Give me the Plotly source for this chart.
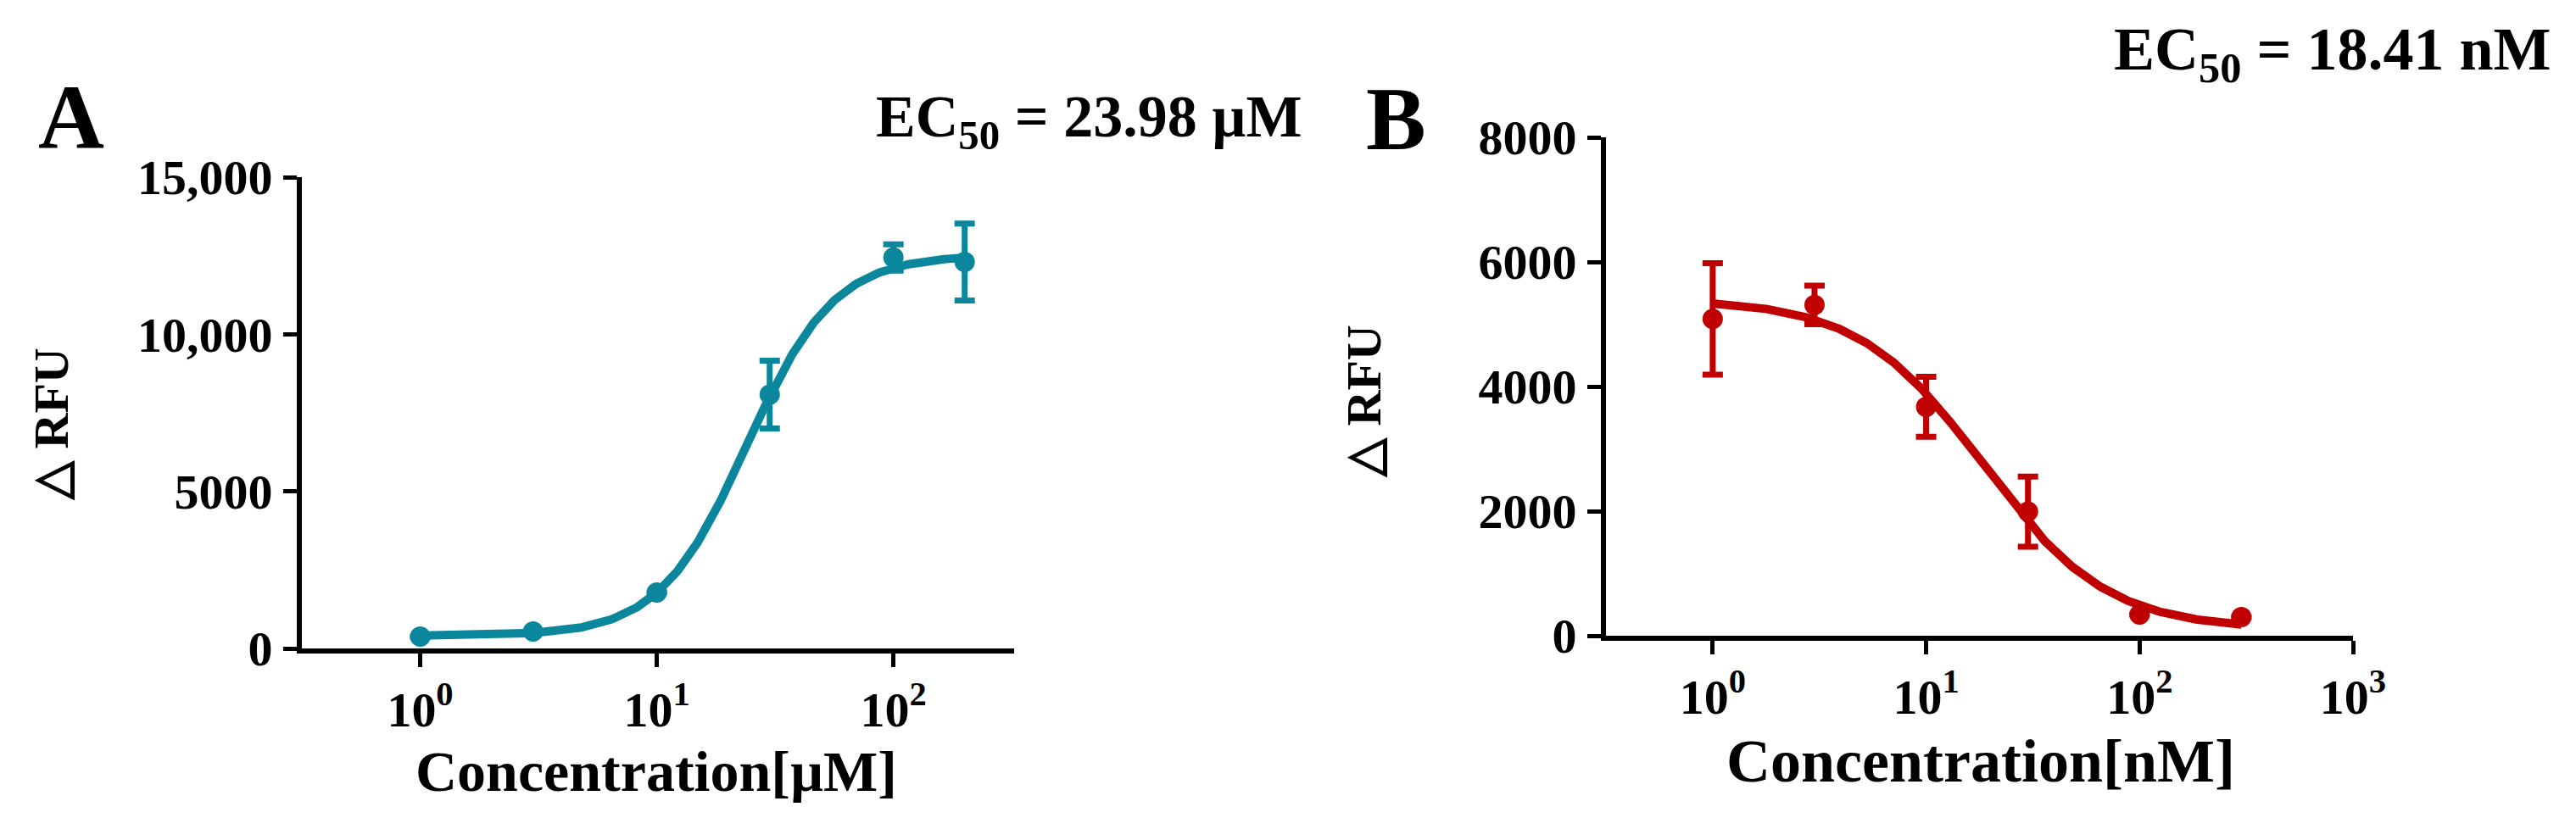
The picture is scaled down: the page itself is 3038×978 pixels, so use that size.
import numpy as np
import plotly.graph_objects as go

W, H = 3038, 978
OFF = 8  # default page margin of the html body

# ---------------- data ----------------
# Panel A (concentration in µM)
conc_a = [1, 3, 10, 30, 100, 200]
rfu_a = [377, 539, 1778, 8080, 12443, 12300]
err_a = [None, None, None, 1077, 420, 1225]
ec50_a = 23.98
fit_a_bottom, fit_a_top, fit_a_hill = 400, 12520, 2.35

# Panel B (concentration in nM)
conc_b = [1, 3, 10, 30, 100, 300]
rfu_b = [5085, 5310, 3675, 1993, 340, 300]
err_b = [895, 310, 480, 563, None, None]
ec50_b = 18.41
fit_b_bottom, fit_b_top, fit_b_hill = 100, 5400, -1.5

yticks_a = [0, 5000, 10000, 15000]
yticklabels_a = ["0", "5000", "10,000", "15,000"]
yticks_b = [0, 2000, 4000, 6000, 8000]
yticklabels_b = ["0", "2000", "4000", "6000", "8000"]
xticks_a = [1, 10, 100]
xticks_b = [1, 10, 100, 1000]
xticklabels_a = ["10<sup>0</sup>", "10<sup>1</sup>", "10<sup>2</sup>"]
xticklabels_b = ["10<sup>0</sup>", "10<sup>1</sup>", "10<sup>2</sup>", "10<sup>3</sup>"]

TEAL = "#0A879C"
RED = "#C00000"
FONT = "Liberation Serif"


def four_pl(x, bottom, top, ec50, hill):
    x = np.asarray(x, dtype=float)
    return bottom + (top - bottom) / (1.0 + (ec50 / x) ** hill)


cx_a = np.logspace(np.log10(conc_a[0]), np.log10(conc_a[-1]), 400)
cy_a = four_pl(cx_a, fit_a_bottom, fit_a_top, ec50_a, fit_a_hill)
cx_b = np.logspace(np.log10(conc_b[0]), np.log10(conc_b[-1]), 400)
cy_b = four_pl(cx_b, fit_b_bottom, fit_b_top, ec50_b, fit_b_hill)


def fx(px):
    return (px - OFF) / W


def fy(py):
    return 1 - (py - OFF) / H


fig = go.Figure()
fig.add_trace(go.Scatter(x=cx_a, y=cy_a, mode="lines", line=dict(color=TEAL, width=10),
                         xaxis="x", yaxis="y", hoverinfo="skip", cliponaxis=False))
fig.add_trace(go.Scatter(x=conc_a, y=rfu_a, mode="markers",
                         marker=dict(color=TEAL, size=24),
                         error_y=dict(type="data", array=err_a, color=TEAL, thickness=7, width=12),
                         xaxis="x", yaxis="y", cliponaxis=False))
fig.add_trace(go.Scatter(x=cx_b, y=cy_b, mode="lines", line=dict(color=RED, width=10),
                         xaxis="x2", yaxis="y2", hoverinfo="skip", cliponaxis=False))
fig.add_trace(go.Scatter(x=conc_b, y=rfu_b, mode="markers",
                         marker=dict(color=RED, size=24),
                         error_y=dict(type="data", array=err_b, color=RED, thickness=7, width=12),
                         xaxis="x2", yaxis="y2", cliponaxis=False))

tickfont_y = dict(family=FONT, size=58, color="black", weight="bold")
tickfont_x = dict(family=FONT, size=58, color="black", weight="bold")

common_axis = dict(showline=True, linewidth=6, linecolor="black", ticks="outside",
                   ticklen=16, tickwidth=5, tickcolor="black", showgrid=False,
                   zeroline=False, mirror=False, automargin=False)

fig.update_layout(
    width=W, height=H, margin=dict(l=0, r=0, t=0, b=0, pad=0, autoexpand=False),
    paper_bgcolor="white", plot_bgcolor="white", showlegend=False,
    xaxis=dict(domain=[fx(356), fx(1196)], type="log", range=[-0.5, 2.51], anchor="y",
               tickvals=xticks_a, ticktext=xticklabels_a, tickfont=tickfont_x,
               ticklabelstandoff=0, **common_axis),
    yaxis=dict(domain=[fy(765), fy(209)], range=[0, 15000], anchor="x",
               tickvals=yticks_a, ticktext=yticklabels_a, tickfont=tickfont_y,
               ticklabelstandoff=1, **common_axis),
    xaxis2=dict(domain=[fx(1894), fx(2775)], type="log", range=[-0.5, 3], anchor="y2",
                tickvals=xticks_b, ticktext=xticklabels_b, tickfont=tickfont_x,
                ticklabelstandoff=0, **common_axis),
    yaxis2=dict(domain=[fy(750), fy(162)], range=[0, 8000], anchor="x2",
                tickvals=yticks_b, ticktext=yticklabels_b, tickfont=tickfont_y,
                ticklabelstandoff=1, **common_axis),
)


def ann(text, xp, yp, size, angle=0):
    fig.add_annotation(text=text, x=fx(xp), y=fy(yp), xref="paper", yref="paper",
                       showarrow=False, xanchor="center", yanchor="middle", textangle=angle,
                       font=dict(family=FONT, size=size, color="black", weight="bold"))


ann("A", 84, 139, 108)
ann("B", 1646, 140, 106)
ann(f"EC<sub>50</sub> = {ec50_a} µM", 1284, 143, 70)
ann(f"EC<sub>50</sub> = {ec50_b} nM", 2750, 63, 72)
ann("Concentration[µM]", 774, 910, 68)
ann("Concentration[nM]", 2336, 898, 72)
ann("△ RFU", 60, 500, 58, angle=-90)
ann("△ RFU", 1608, 474, 58, angle=-90)

fig.write_html("out.html")
